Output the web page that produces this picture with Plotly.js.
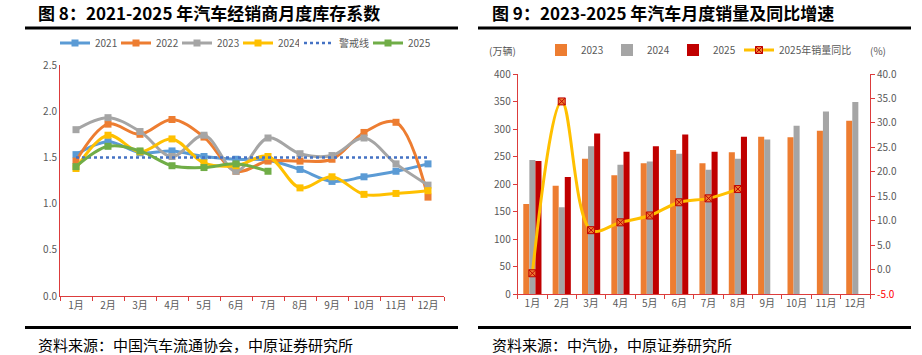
<!DOCTYPE html>
<html>
<head>
<meta charset="utf-8">
<script src="https://cdn.plot.ly/plotly-3.0.1.min.js"></script>
<style>html,body{margin:0;padding:0;background:#fff;}#chart{width:922px;height:355px;}</style>
</head>
<body>
<div id="chart"></div>
<script>
// ---- data: 图8 库存系数 ----
const months = ['1月','2月','3月','4月','5月','6月','7月','8月','9月','10月','11月','12月'];
const coef2021 = [1.53,1.67,1.55,1.57,1.51,1.48,1.47,1.37,1.24,1.29,1.35,1.43];
const coef2022 = [1.46,1.86,1.75,1.91,1.72,1.35,1.46,1.46,1.48,1.77,1.88,1.07];
const coef2023 = [1.80,1.93,1.78,1.51,1.74,1.35,1.71,1.54,1.52,1.71,1.43,1.20];
const coef2024 = [1.38,1.74,1.56,1.70,1.44,1.41,1.51,1.17,1.29,1.10,1.11,1.14];
const coef2025 = [1.40,1.62,1.57,1.41,1.39,1.43,1.35];
const warnLine = [1.5,1.5,1.5,1.5,1.5,1.5,1.5,1.5,1.5,1.5,1.5,1.5];

// ---- data: 图9 销量 (万辆) 及同比 (%) ----
const sales2023 = [164,197,246,216,238,262,238,258,286,285,297,315];
const sales2024 = [244,158,269,235,241,255,226,246,281,306,332,349];
const sales2025 = [242,213,292,259,269,290,259,286];
const yoy2025 = [-0.7,34.4,8.1,9.7,11.1,13.8,14.6,16.5];

const leftTicks = ['0.0','0.5','1.0','1.5','2.0','2.5'];
const salesTicks = ['0','50','100','150','200','250','300','350','400'];
const yoyTicks = ['-5.0','0.0','5.0','10.0','15.0','20.0','25.0','30.0','35.0','40.0'];

const W = 922, H = 355;
const px = v => v / W;
const py = v => (H - v) / H;
const FONT = '"Noto Sans CJK SC", "Noto Sans", sans-serif';
const AX = '#DC3C3C';
const GRAY = '#595959';

function coefLine(name, x, y, color, legend) {
  return {type:'scatter', mode:'lines+markers', name:name, x:x, y:y,
    xaxis:'x', yaxis:'y', legend:legend || 'legend',
    line:{color:color, width:3, shape:'spline', smoothing:1},
    marker:{symbol:'square', size:7, color:color}};
}

const traces = [
  coefLine('2021', months, coef2021, '#5B9BD5'),
  coefLine('2022', months, coef2022, '#ED7D31'),
  coefLine('2023', months, coef2023, '#A5A5A5'),
  coefLine('2024', months, coef2024, '#FFC000'),
  {type:'scatter', mode:'lines', name:'警戒线', x:months, y:warnLine, xaxis:'x', yaxis:'y', legend:'legend5',
    line:{color:'#4472C4', width:2.5, dash:'dot'}},
  coefLine('2025', months.slice(0, coef2025.length), coef2025, '#70AD47', 'legend3'),

  {type:'bar', name:'2023', x:months, y:sales2023, xaxis:'x2', yaxis:'y2', legend:'legend2', marker:{color:'#ED7D31'}},
  {type:'bar', name:'2024', x:months, y:sales2024, xaxis:'x2', yaxis:'y2', legend:'legend2', marker:{color:'#A5A5A5'}},
  {type:'bar', name:'2025', x:months.slice(0, sales2025.length), y:sales2025, xaxis:'x2', yaxis:'y2', legend:'legend2', marker:{color:'#C00000'}},
  {type:'scatter', mode:'lines+markers', name:'2025年销量同比', x:months.slice(0, yoy2025.length), y:yoy2025,
    xaxis:'x2', yaxis:'y3', legend:'legend4',
    line:{color:'#FFC000', width:3, shape:'spline', smoothing:1},
    marker:{symbol:'square-x', size:7, color:'#ED7D31', line:{color:'#C00000', width:1}}}
];

const tickFont = {family:FONT, size:10, color:GRAY};
const legFont = {family:FONT, size:10, color:GRAY};
function leg(x, y, ew) {
  return {orientation:'h', x:px(x), y:py(y), xanchor:'left', yanchor:'middle', font:legFont,
    bgcolor:'rgba(0,0,0,0)', itemwidth:30, entrywidth:ew, entrywidthmode:'pixels', traceorder:'normal'};
}

const layout = {
  width:W, height:H, margin:{l:0,r:0,t:0,b:0},
  paper_bgcolor:'#fff', plot_bgcolor:'rgba(0,0,0,0)',
  showlegend:true, barmode:'group', bargap:0.38, bargroupgap:0,
  font:{family:FONT, color:GRAY},
  xaxis:{domain:[px(60), px(444)], type:'category', range:[-0.5,11.5], showline:true, linecolor:AX, linewidth:1,
    ticks:'outside', tickson:'boundaries', ticklen:4, tickcolor:AX, tickfont:tickFont, tickangle:0, showgrid:false, zeroline:false, fixedrange:true},
  yaxis:{domain:[py(296), py(65)], range:[0,2.5], tickvals:[0,0.5,1,1.5,2,2.5], ticktext:leftTicks,
    showline:true, linecolor:AX, linewidth:1, ticks:'', tickfont:tickFont, showgrid:false, zeroline:false, fixedrange:true},
  xaxis2:{domain:[px(517.7), px(870)], anchor:'y2', type:'category', range:[-0.5,11.5], showline:true, linecolor:AX, linewidth:1,
    ticks:'outside', tickson:'boundaries', ticklen:4, tickcolor:AX, tickfont:tickFont, tickangle:0, showgrid:false, zeroline:false, fixedrange:true},
  yaxis2:{domain:[py(294.3), py(74)], anchor:'x2', range:[0,400], tickvals:[0,50,100,150,200,250,300,350,400], ticktext:salesTicks,
    showline:true, linecolor:AX, linewidth:1, ticks:'outside', ticklen:4, tickcolor:AX, tickfont:tickFont, showgrid:false, zeroline:false, fixedrange:true},
  yaxis3:{domain:[py(294.3), py(74)], anchor:'x2', overlaying:'y2', side:'right', range:[-5,40],
    tickvals:[-5,0,5,10,15,20,25,30,35,40],
    ticktext:yoyTicks.map(t => t === '-5.0' ? '<span style="color:#FF0000">' + t + '</span>' : t),
    showline:true, linecolor:AX, linewidth:1, ticks:'outside', ticklen:4, tickcolor:AX, tickfont:tickFont, showgrid:false, zeroline:false, fixedrange:true},
  legend: leg(55, 43, 16),
  legend5: leg(299, 43, 40),
  legend3: leg(368, 43, 30),
  legend2: leg(541, 50, 21),
  legend4: leg(739, 50, 80),
  shapes:[
    {type:'line', xref:'paper', yref:'paper', x0:px(25), x1:px(458), y0:py(28), y1:py(28), line:{color:'#000', width:3}},
    {type:'line', xref:'paper', yref:'paper', x0:px(478), x1:px(911), y0:py(28), y1:py(28), line:{color:'#000', width:3}},
    {type:'line', xref:'paper', yref:'paper', x0:px(25), x1:px(458), y0:py(327.5), y1:py(327.5), line:{color:'#000', width:3}},
    {type:'line', xref:'paper', yref:'paper', x0:px(478), x1:px(911), y0:py(327.5), y1:py(327.5), line:{color:'#000', width:3}}
  ],
  annotations:[
    {xref:'paper', yref:'paper', x:px(36), y:py(13), xanchor:'left', yanchor:'middle', showarrow:false,
      text:'<b>图 8：2021-2025 年汽车经销商月度库存系数</b>', font:{family:FONT, size:17, color:'#000'}},
    {xref:'paper', yref:'paper', x:px(490), y:py(13), xanchor:'left', yanchor:'middle', showarrow:false,
      text:'<b>图 9：2023-2025 年汽车月度销量及同比增速</b>', font:{family:FONT, size:17, color:'#000'}},
    {xref:'paper', yref:'paper', x:px(36), y:py(344), xanchor:'left', yanchor:'middle', showarrow:false,
      text:'资料来源：中国汽车流通协会，中原证券研究所', font:{family:FONT, size:15, color:'#000'}},
    {xref:'paper', yref:'paper', x:px(490), y:py(344), xanchor:'left', yanchor:'middle', showarrow:false,
      text:'资料来源：中汽协，中原证券研究所', font:{family:FONT, size:15, color:'#000'}},
    {xref:'paper', yref:'paper', x:px(487), y:py(50), xanchor:'left', yanchor:'middle', showarrow:false,
      text:'(万辆)', font:{family:FONT, size:10, color:GRAY}},
    {xref:'paper', yref:'paper', x:px(868), y:py(50), xanchor:'left', yanchor:'middle', showarrow:false,
      text:'(%)', font:{family:FONT, size:10, color:GRAY}}
  ]
};

Plotly.newPlot('chart', traces, layout, {staticPlot:true, displayModeBar:false});
</script>
</body>
</html>
